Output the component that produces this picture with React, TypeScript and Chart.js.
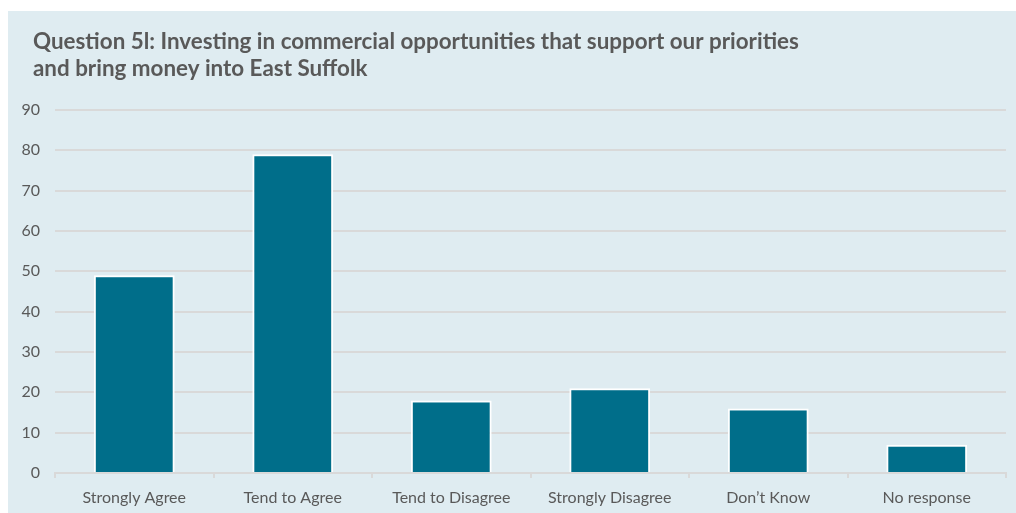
import React, { useEffect, useRef } from "react";
import { Chart, registerables } from "chart.js";

Chart.register(...registerables);

const categories = ["Strongly Agree", "Tend to Agree", "Tend to Disagree", "Strongly Disagree", "Don\u2019t Know", "No response"];
const responses = [49, 79, 18, 21, 16, 7];
const titleLines = [
  "Question 5l: Investing in commercial opportunities that support our priorities",
  "and bring money into East Suffolk",
];
const yMin = 0;
const yMax = 90;
const yStep = 10;

const FONT = "Lato, 'Open Sans', sans-serif";
const TEXT = "#595959";
const GRID = "#d9d9d9";

const titlePlugin = {
  id: "leftTitle",
  afterDraw(chart: any) {
    const ctx = chart.ctx;
    ctx.save();
    ctx.fillStyle = TEXT;
    ctx.font = `bold 22.4px ${FONT}`;
    ctx.textAlign = "left";
    ctx.textBaseline = "alphabetic";
    const baselines = [37.5, 65];
    titleLines.forEach((line, i) => ctx.fillText(line, 25, baselines[i]));
    ctx.restore();
  },
};

export default function App() {
  const ref = useRef<HTMLCanvasElement | null>(null);
  useEffect(() => {
    if (!ref.current) return;
    const chart = new Chart(ref.current, {
      type: "bar",
      data: {
        labels: categories,
        datasets: [
          {
            data: responses,
            backgroundColor: "#006e8a",
            borderColor: "#ffffff",
            borderWidth: 2,
            categoryPercentage: 1,
            barPercentage: 0.51,
          },
        ],
      },
      plugins: [titlePlugin],
      options: {
        animation: false,
        responsive: false,
        maintainAspectRatio: false,
        layout: { padding: { left: 0, right: 10, top: 99, bottom: 0 } },
        plugins: {
          legend: { display: false },
          tooltip: { enabled: false },
          title: { display: false },
        },
        scales: {
          x: {
            grid: { display: true, drawOnChartArea: false, drawTicks: true, tickLength: 5, color: GRID, lineWidth: 2 },
            border: { display: true, color: GRID, width: 2 },
            ticks: { color: TEXT, font: { family: FONT, size: 16 }, padding: 10, maxRotation: 0 },
            afterFit: (s: any) => { s.height = 40; },
          },
          y: {
            min: yMin,
            max: yMax,
            grid: { color: GRID, lineWidth: 2, drawTicks: false },
            border: { display: false },
            ticks: { stepSize: yStep, color: TEXT, font: { family: FONT, size: 16 }, padding: 15 },
            afterFit: (s: any) => { s.width = 47; },
          },
        },
      },
    });
    return () => chart.destroy();
  }, []);
  return (
    <div style={{ position: "absolute", left: 8, top: 11, width: 1008, height: 502, background: "#dfecf1" }}>
      <canvas ref={ref} width={1008} height={502} style={{ display: "block" }} />
    </div>
  );
}
